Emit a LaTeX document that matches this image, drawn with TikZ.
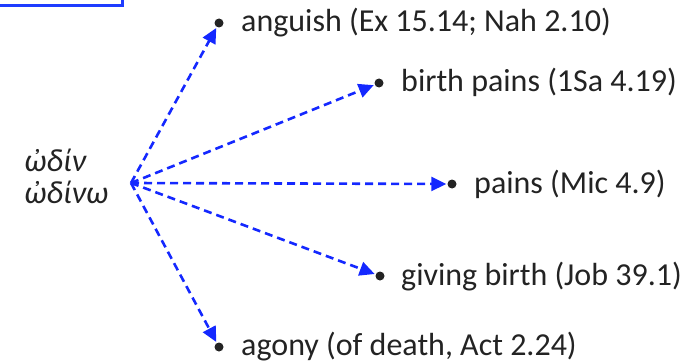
\documentclass[tikz,border=0pt]{standalone}
\usepackage{fontspec}
\setmainfont{Carlito}
\usetikzlibrary{arrows.meta}
\definecolor{arrowblue}{RGB}{20,40,255}
\definecolor{boxblue}{RGB}{30,60,255}
\definecolor{txt}{RGB}{35,35,35}
\tikzset{
  itemtext/.style={anchor=base west, inner sep=0pt, font=\fontsize{32}{38}\selectfont, text=txt},
  greek/.style={anchor=base west, inner sep=0pt, font=\fontsize{32}{38}\selectfont\itshape, text=txt},
  bul/.style={circle, fill=txt, inner sep=0pt, minimum size=9pt},
  link/.style={arrowblue, line width=2.6pt, dash pattern=on 8pt off 5pt, -{Triangle[length=15pt,width=14pt]}, shorten >=1pt},
}
\begin{document}
\begin{tikzpicture}[x=1pt,y=-1pt]
\useasboundingbox (0,0) rectangle (696,361);
\draw[boxblue, line width=3pt] (-10,-10) rectangle (122,6);
\node[greek] (g1) at (24,171) {ὠδίν};
\node[greek] (g2) at (24,203) {ὠδίνω};
\coordinate (hub) at (131,183);
\node[bul] (b1) at (219,23) {};
\node[bul] (b2) at (379,83) {};
\node[bul] (b3) at (452,184) {};
\node[bul] (b4) at (380,276) {};
\node[bul] (b5) at (219,347) {};
\node[itemtext] (t1) at (241,32) {anguish (Ex 15.14; Nah 2.10)};
\node[itemtext] (t2) at (401,92) {birth pains (1Sa 4.19)};
\node[itemtext] (t3) at (474,193) {pains (Mic 4.9)};
\node[itemtext] (t4) at (401,285) {giving birth (Job 39.1)};
\node[itemtext] (t5) at (241,355) {agony (of death, Act 2.24)};
\draw[link] (hub) -- (b1);
\draw[link] (hub) -- (b2);
\draw[link] (hub) -- (b3);
\draw[link] (hub) -- (b4);
\draw[link] (hub) -- (b5);
\end{tikzpicture}
\end{document}
